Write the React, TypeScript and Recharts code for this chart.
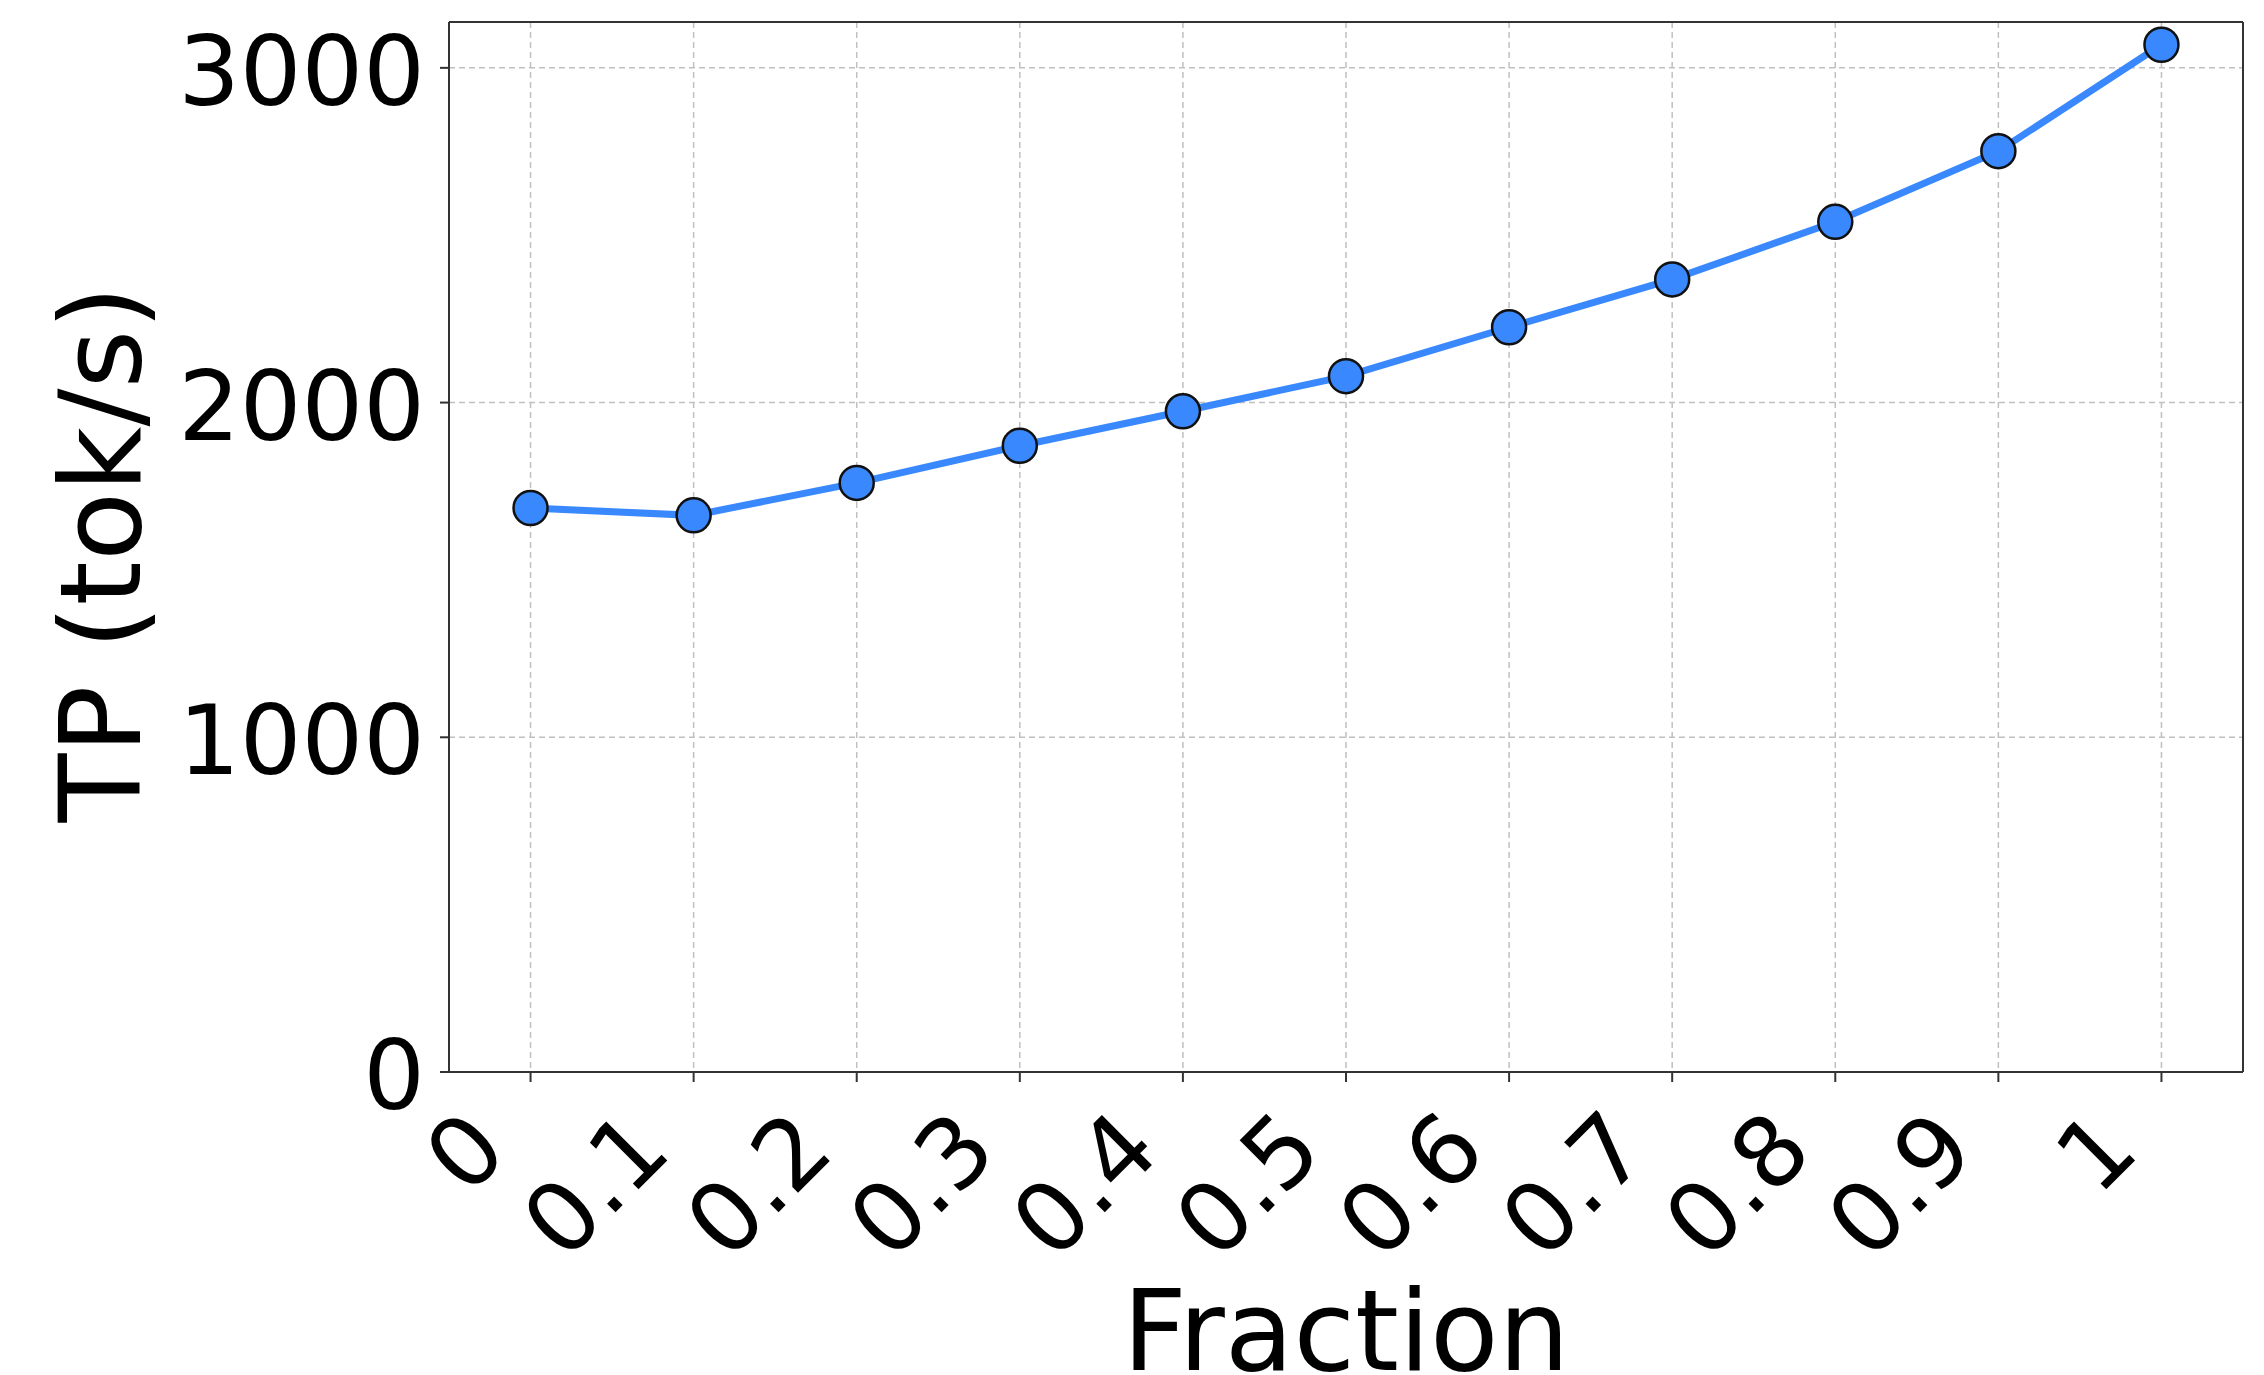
import { LineChart, Line, XAxis, YAxis, CartesianGrid, ReferenceLine } from 'recharts'

const fractions = [0, 0.1, 0.2, 0.3, 0.4, 0.5, 0.6, 0.7, 0.8, 0.9, 1]
const fractionLabels = ['0', '0.1', '0.2', '0.3', '0.4', '0.5', '0.6', '0.7', '0.8', '0.9', '1']
const throughput = [1685, 1663, 1760, 1871, 1974, 2079, 2225, 2368, 2540, 2751, 3069]
const yTicks = [0, 1000, 2000, 3000]

const FONT = '"DejaVu Sans", sans-serif'
const BLUE = '#3a88fe'

const data = fractions.map((f, i) => ({ f, tp: throughput[i] }))

function XTick({ x, y, payload }: any) {
  const i = fractions.indexOf(payload.value)
  const ax = x - 20
  const ay = y + 72
  return (
    <text
      x={ax}
      y={ay}
      textAnchor="end"
      transform={`rotate(-45 ${ax} ${ay})`}
      fontFamily={FONT}
      fontSize={97}
      fill="#000"
    >
      {fractionLabels[i] ?? payload.value}
    </text>
  )
}

function YTick({ x, y, payload }: any) {
  return (
    <text x={x + 2} y={y + 37} textAnchor="end" fontFamily={FONT} fontSize={97} fill="#000">
      {payload.value}
    </text>
  )
}

function YLabel({ viewBox }: any) {
  const cx = 140
  const cy = viewBox ? viewBox.y + viewBox.height / 2 + 7 : 554
  return (
    <text
      x={cx}
      y={cy}
      textAnchor="middle"
      transform={`rotate(-90 ${cx} ${cy})`}
      fontFamily={FONT}
      fontSize={113}
      fill="#000"
    >
      TP (tok/s)
    </text>
  )
}

export default function App() {
  return (
    <div style={{ width: 2264, height: 1375, background: '#fff' }}>
      <style>{`body{margin:0}`}</style>
      <LineChart
        width={2264}
        height={1375}
        data={data}
        margin={{ top: 22, right: 21, bottom: 0, left: 0 }}
      >
        <CartesianGrid stroke="#c0c0c0" strokeWidth={1.5} strokeDasharray="6 4" />
        <XAxis
          dataKey="f"
          type="number"
          domain={[-0.05, 1.05]}
          ticks={fractions}
          allowDataOverflow
          height={303}
          tickSize={10}
          tickMargin={0}
          stroke="#333"
          strokeWidth={2}
          tick={<XTick />}
          interval={0}
          label={{
            value: 'Fraction',
            position: 'insideBottom',
            offset: 5,
            fontFamily: FONT,
            fontSize: 112,
            fill: '#000',
          }}
        />
        <YAxis
          type="number"
          domain={[0, 3137]}
          ticks={yTicks}
          allowDataOverflow
          width={449}
          tickSize={9}
          tickMargin={17}
          stroke="#333"
          strokeWidth={2}
          tick={<YTick />}
          interval={0}
          label={<YLabel />}
        />
        <ReferenceLine y={3137} stroke="#333" strokeWidth={2} />
        <ReferenceLine x={1.05} stroke="#333" strokeWidth={2} />
        <Line
          dataKey="tp"
          stroke={BLUE}
          strokeWidth={7}
          isAnimationActive={false}
          dot={{ r: 17, fill: BLUE, stroke: '#111', strokeWidth: 2.5 }}
          activeDot={false}
        />
      </LineChart>
    </div>
  )
}
